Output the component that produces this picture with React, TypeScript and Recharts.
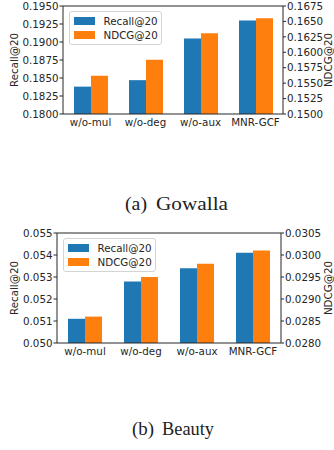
import React from 'react';
import { BarChart, Bar, XAxis, YAxis, Legend, ReferenceLine } from 'recharts';

// categories and values
const categories = ['w/o-mul', 'w/o-deg', 'w/o-aux', 'MNR-GCF'];
const gowallaRecall = [0.1838, 0.1847, 0.1905, 0.193];
const gowallaNdcg = [0.1562, 0.1588, 0.1631, 0.1655];
const beautyRecall = [0.0511, 0.0528, 0.0534, 0.0541];
const beautyNdcg = [0.0286, 0.0295, 0.0298, 0.0301];

const gowallaLeftTicks = [0.18, 0.1825, 0.185, 0.1875, 0.19, 0.1925, 0.195];
const gowallaRightTicks = [0.15, 0.1525, 0.155, 0.1575, 0.16, 0.1625, 0.165, 0.1675];
const beautyLeftTicks = [0.05, 0.051, 0.052, 0.053, 0.054, 0.055];
const beautyRightTicks = [0.028, 0.0285, 0.029, 0.0295, 0.03, 0.0305];

const BLUE = '#1f77b4';
const ORANGE = '#ff7f0e';
const INK = '#262626';
const FONT = '"DejaVu Sans", sans-serif';
const SERIF = '"Liberation Serif", serif';
const FS = 10.3;

const makeRows = (recall: number[], ndcg: number[]) =>
  categories.map((name, i) => ({ name, recall: recall[i], ndcg: ndcg[i] }));

// rotated axis title, placed at a fixed x
const AxisTitle = (props: any) => {
  const { viewBox, value, cx } = props;
  const cy = viewBox.y + viewBox.height / 2;
  return (
    <text
      transform={`translate(${cx},${cy}) rotate(-90)`}
      textAnchor="middle"
      dominantBaseline="central"
      fontFamily={FONT}
      fontSize={FS}
      fill={INK}
    >
      {value}
    </text>
  );
};

const LegendBox = () => {
  const rows = [
    { label: 'Recall@20', color: BLUE },
    { label: 'NDCG@20', color: ORANGE },
  ];
  return (
    <div
      style={{
        position: 'relative',
        width: 93,
        height: 34,
        boxSizing: 'border-box',
        border: '1px solid #d4d4d4',
        borderRadius: 3,
        background: 'rgba(255,255,255,0.85)',
        fontFamily: FONT,
        fontSize: FS,
        color: INK,
      }}
    >
      {rows.map((r, i) => (
        <React.Fragment key={r.label}>
          <div
            style={{
              position: 'absolute',
              left: 4,
              top: 4.5 + i * 14,
              width: 21,
              height: 8,
              background: r.color,
            }}
          />
          <div
            style={{
              position: 'absolute',
              left: 34,
              top: 1.5 + i * 14,
              lineHeight: '14px',
              whiteSpace: 'nowrap',
            }}
          >
            {r.label}
          </div>
        </React.Fragment>
      ))}
    </div>
  );
};

type PanelProps = {
  recall: number[];
  ndcg: number[];
  leftTicks: number[];
  rightTicks: number[];
  leftDigits: number;
  rightDigits: number;
  leftWidth: number;
  rightWidth: number;
  plotHeight: number;
};

const Panel = (p: PanelProps) => {
  const data = makeRows(p.recall, p.ndcg);
  const top = 6;
  const lt = p.leftTicks;
  const rt = p.rightTicks;
  return (
    <BarChart
      width={334}
      height={top + p.plotHeight + 27}
      data={data}
      margin={{ top, right: 0, bottom: 0, left: 0 }}
      barGap={0}
      barCategoryGap={0}
    >
      <XAxis
        dataKey="name"
        height={27}
        tickLine={false}
        tickSize={3}
        tickMargin={2}
        axisLine={{ stroke: INK, strokeWidth: 1 }}
        tick={{ fontFamily: FONT, fontSize: FS, fill: INK }}
        interval={0}
      />
      <YAxis
        yAxisId="l"
        width={p.leftWidth}
        domain={[lt[0], lt[lt.length - 1]]}
        ticks={lt}
        interval={0}
        allowDataOverflow
        tickFormatter={(v: number) => v.toFixed(p.leftDigits)}
        tickSize={3.5}
        tickMargin={1}
        tickLine={{ stroke: INK }}
        axisLine={{ stroke: INK, strokeWidth: 1 }}
        tick={{ fontFamily: FONT, fontSize: FS, fill: INK }}
        label={<AxisTitle value="Recall@20" cx={14} />}
      />
      <YAxis
        yAxisId="r"
        orientation="right"
        width={p.rightWidth}
        domain={[rt[0], rt[rt.length - 1]]}
        ticks={rt}
        interval={0}
        allowDataOverflow
        tickFormatter={(v: number) => v.toFixed(p.rightDigits)}
        tickSize={3}
        tickMargin={1}
        tickLine={{ stroke: INK }}
        axisLine={{ stroke: INK, strokeWidth: 1 }}
        tick={{ fontFamily: FONT, fontSize: FS, fill: INK }}
        label={<AxisTitle value="NDCG@20" cx={328} />}
      />
      <ReferenceLine yAxisId="l" y={lt[lt.length - 1]} stroke={INK} strokeWidth={1} />
      <Legend
        content={<LegendBox />}
        wrapperStyle={{ left: p.leftWidth + 5.5, top: top + 5, width: 'auto', height: 'auto' }}
      />
      <Bar dataKey="recall" yAxisId="l" fill={BLUE} barSize={17} isAnimationActive={false} />
      <Bar dataKey="ndcg" yAxisId="r" fill={ORANGE} barSize={17} isAnimationActive={false} />
    </BarChart>
  );
};

export default function App() {
  return (
    <div style={{ position: 'absolute', left: 0, top: 0, width: 334, height: 450, background: '#fff' }}>
      <div style={{ position: 'absolute', left: 0, top: 0 }}>
        <Panel
          recall={gowallaRecall}
          ndcg={gowallaNdcg}
          leftTicks={gowallaLeftTicks}
          rightTicks={gowallaRightTicks}
          leftDigits={4}
          rightDigits={4}
          leftWidth={63}
          rightWidth={51}
          plotHeight={142}
        />
      </div>
      <div style={{ position: 'absolute', left: 0, top: 227 }}>
        <Panel
          recall={beautyRecall}
          ndcg={beautyNdcg}
          leftTicks={beautyLeftTicks}
          rightTicks={beautyRightTicks}
          leftDigits={3}
          rightDigits={4}
          leftWidth={57}
          rightWidth={53}
          plotHeight={144}
        />
      </div>
      <svg
        width={334}
        height={450}
        style={{ position: 'absolute', left: 0, top: 0, pointerEvents: 'none' }}
      >
        <text x={125} y={210} fontFamily={SERIF} fontSize={19} fill="#222" textLength={22} lengthAdjust="spacingAndGlyphs">
          (a)
        </text>
        <text x={156} y={210} fontFamily={SERIF} fontSize={19} fill="#222" textLength={72} lengthAdjust="spacingAndGlyphs">
          Gowalla
        </text>
        <text x={132} y={435} fontFamily={SERIF} fontSize={19} fill="#222" textLength={22} lengthAdjust="spacingAndGlyphs">
          (b)
        </text>
        <text x={162} y={435} fontFamily={SERIF} fontSize={19} fill="#222" textLength={52} lengthAdjust="spacingAndGlyphs">
          Beauty
        </text>
      </svg>
    </div>
  );
}
